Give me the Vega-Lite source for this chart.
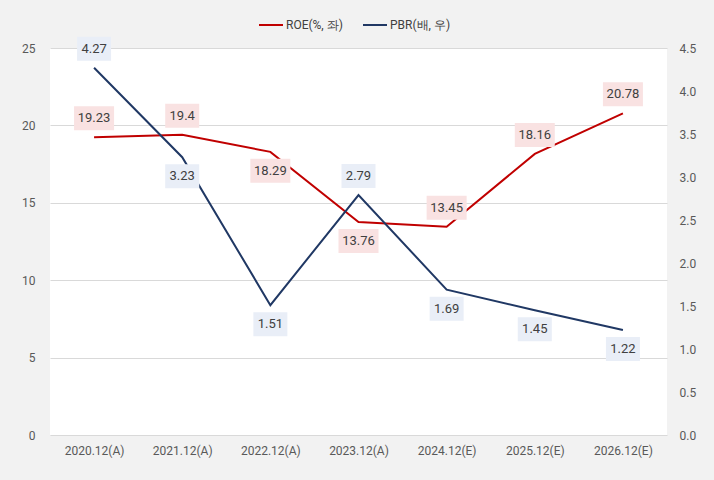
{
  "$schema": "https://vega.github.io/schema/vega-lite/v6.json",
  "width": 617,
  "height": 387,
  "autosize": "none",
  "padding": {"left": 50, "top": 48, "right": 47, "bottom": 45},
  "background": "#f2f2f2",
  "config": {
    "view": {"fill": "#ffffff", "stroke": null},
    "font": "Roboto",
    "axis": {"labelFont": "Roboto", "labelFontSize": 12, "labelColor": "#595959", "ticks": false, "domain": false, "title": null},
    "legend": {"labelFont": "Roboto", "labelFontSize": 12, "labelColor": "#404040"}
  },
  "data": {"values": [
    {"date": "2020.12(A)", "series": "ROE(%, 좌)", "value": 19.23, "pos": "above"},
    {"date": "2021.12(A)", "series": "ROE(%, 좌)", "value": 19.4, "pos": "above"},
    {"date": "2022.12(A)", "series": "ROE(%, 좌)", "value": 18.29, "pos": "below"},
    {"date": "2023.12(A)", "series": "ROE(%, 좌)", "value": 13.76, "pos": "below"},
    {"date": "2024.12(E)", "series": "ROE(%, 좌)", "value": 13.45, "pos": "above"},
    {"date": "2025.12(E)", "series": "ROE(%, 좌)", "value": 18.16, "pos": "above"},
    {"date": "2026.12(E)", "series": "ROE(%, 좌)", "value": 20.78, "pos": "above"},
    {"date": "2020.12(A)", "series": "PBR(배, 우)", "value": 4.27, "pos": "above"},
    {"date": "2021.12(A)", "series": "PBR(배, 우)", "value": 3.23, "pos": "below"},
    {"date": "2022.12(A)", "series": "PBR(배, 우)", "value": 1.51, "pos": "below"},
    {"date": "2023.12(A)", "series": "PBR(배, 우)", "value": 2.79, "pos": "above"},
    {"date": "2024.12(E)", "series": "PBR(배, 우)", "value": 1.69, "pos": "below"},
    {"date": "2025.12(E)", "series": "PBR(배, 우)", "value": 1.45, "pos": "below"},
    {"date": "2026.12(E)", "series": "PBR(배, 우)", "value": 1.22, "pos": "below"}
  ]},
  "encoding": {
    "x": {"field": "date", "type": "ordinal", "sort": null,
          "scale": {"paddingInner": 0, "paddingOuter": 0},
          "axis": {"labelAngle": 0, "labelPadding": 10, "grid": false}}
  },
  "layer": [
    {
      "transform": [{"filter": "datum.series === 'ROE(%, 좌)'"}],
      "encoding": {
        "y": {"field": "value", "type": "quantitative",
              "scale": {"domain": [0, 25], "nice": false},
              "axis": {"orient": "left", "values": [0, 5, 10, 15, 20, 25], "gridColor": "#d9d9d9", "labelPadding": 15}}
      },
      "layer": [
        {"mark": {"type": "line", "strokeWidth": 2},
         "encoding": {"color": {"field": "series", "type": "nominal",
            "scale": {"domain": ["ROE(%, 좌)", "PBR(배, 우)"], "range": ["#c00000", "#203864"]},
            "legend": {"title": null, "orient": "none", "legendX": 208, "legendY": -36, "direction": "horizontal", "symbolType": "stroke", "symbolSize": 576, "symbolStrokeWidth": 2, "columnPadding": 16, "labelOffset": 2}}}},
        {"transform": [{"filter": "datum.pos === 'above'"}],
         "layer": [
          {"mark": {"type": "point", "filled": true, "opacity": 1, "color": "#f9e2e2", "yOffset": -19, "size": 576},
           "encoding": {"shape": {"condition": {"test": "length(toString(datum.value)) > 4", "value": "M-1.667,-1H1.667V1H-1.667Z"}, "value": "M-1.417,-1H1.417V1H-1.417Z"}}},
          {"mark": {"type": "text", "fontSize": 13, "color": "#404040", "dy": -19, "baseline": "middle"},
           "encoding": {"text": {"field": "value", "type": "nominal"}}}
         ]},
        {"transform": [{"filter": "datum.pos === 'below'"}],
         "layer": [
          {"mark": {"type": "point", "filled": true, "opacity": 1, "color": "#f9e2e2", "yOffset": 19, "size": 576},
           "encoding": {"shape": {"condition": {"test": "length(toString(datum.value)) > 4", "value": "M-1.667,-1H1.667V1H-1.667Z"}, "value": "M-1.417,-1H1.417V1H-1.417Z"}}},
          {"mark": {"type": "text", "fontSize": 13, "color": "#404040", "dy": 19, "baseline": "middle"},
           "encoding": {"text": {"field": "value", "type": "nominal"}}}
         ]}
      ]
    },
    {
      "transform": [{"filter": "datum.series === 'PBR(배, 우)'"}],
      "encoding": {
        "y": {"field": "value", "type": "quantitative",
              "scale": {"domain": [0, 4.5], "nice": false},
              "axis": {"orient": "right", "values": [0, 0.5, 1, 1.5, 2, 2.5, 3, 3.5, 4, 4.5], "format": ".1f", "grid": false, "labelPadding": 12}}
      },
      "layer": [
        {"mark": {"type": "line", "strokeWidth": 2},
         "encoding": {"color": {"field": "series", "type": "nominal"}}},
        {"transform": [{"filter": "datum.pos === 'above'"}],
         "layer": [
          {"mark": {"type": "point", "filled": true, "opacity": 1, "color": "#e9eef7", "yOffset": -19, "size": 576},
           "encoding": {"shape": {"condition": {"test": "length(toString(datum.value)) > 4", "value": "M-1.667,-1H1.667V1H-1.667Z"}, "value": "M-1.417,-1H1.417V1H-1.417Z"}}},
          {"mark": {"type": "text", "fontSize": 13, "color": "#404040", "dy": -19, "baseline": "middle"},
           "encoding": {"text": {"field": "value", "type": "nominal"}}}
         ]},
        {"transform": [{"filter": "datum.pos === 'below'"}],
         "layer": [
          {"mark": {"type": "point", "filled": true, "opacity": 1, "color": "#e9eef7", "yOffset": 19, "size": 576},
           "encoding": {"shape": {"condition": {"test": "length(toString(datum.value)) > 4", "value": "M-1.667,-1H1.667V1H-1.667Z"}, "value": "M-1.417,-1H1.417V1H-1.417Z"}}},
          {"mark": {"type": "text", "fontSize": 13, "color": "#404040", "dy": 19, "baseline": "middle"},
           "encoding": {"text": {"field": "value", "type": "nominal"}}}
         ]}
      ]
    }
  ],
  "resolve": {"scale": {"y": "independent"}}
}
